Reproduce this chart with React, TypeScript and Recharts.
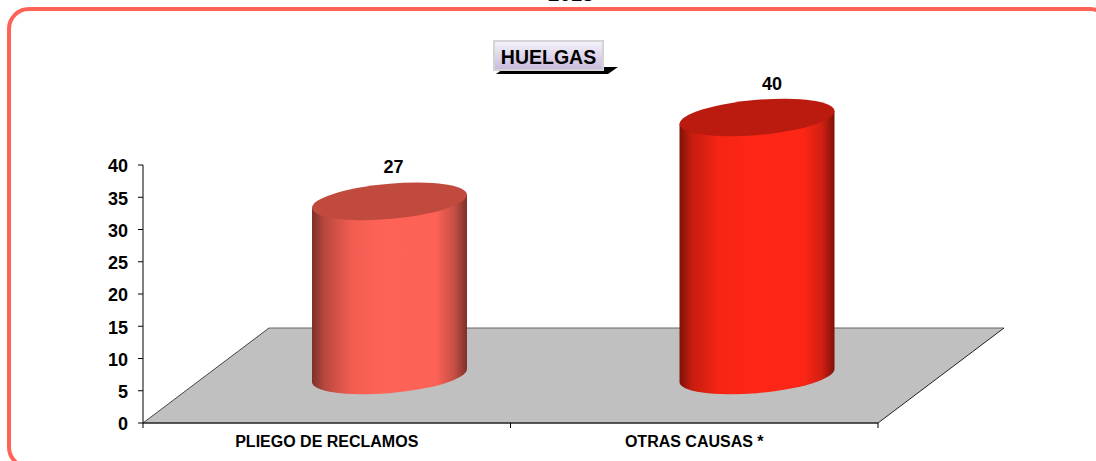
import React from 'react';
import { BarChart, Bar, XAxis, YAxis, Cell, LabelList, ReferenceArea } from 'recharts';

const categories = ['PLIEGO DE RECLAMOS', 'OTRAS CAUSAS *'];
const values = [27, 40];
const yTicks = [0, 5, 10, 15, 20, 25, 30, 35, 40];

const chartData = categories.map((name, i) => ({ name, value: values[i] }));

const WIDTH = 1096;
const HEIGHT = 461;
const MARGIN = { top: 165, right: 218, bottom: 0, left: 100 };
const X_AXIS_HEIGHT = 38;
const Y_AXIS_WIDTH = 43;
const BAR_WIDTH = 155;
const BAND = (WIDTH - MARGIN.right - MARGIN.left - Y_AXIS_WIDTH) / categories.length;

// floor depth of the fake 3D box, bars stand in the middle of it
const DEPTH_X = 126;
const DEPTH_Y = 95;

const FONT = '"Liberation Sans", Arial, sans-serif';

const topColors = ['#C04A3E', '#BB1B0F'];
const labelNudge = [4, 15];

const Floor = ({ x, y, width, height }: any) => {
  const bottom = y + height;
  const points = [
    [x, bottom],
    [x + width, bottom],
    [x + width + DEPTH_X, bottom - DEPTH_Y],
    [x + DEPTH_X, bottom - DEPTH_Y],
  ];
  return (
    <g>
      <polygon points={points.map((p) => p.join(',')).join(' ')} fill="#C0C0C0" />
      <line x1={points[3][0]} y1={points[3][1]} x2={points[2][0]} y2={points[2][1]} stroke="#666" strokeWidth={1} />
      <line x1={points[0][0]} y1={points[0][1]} x2={points[3][0]} y2={points[3][1]} stroke="#444" strokeWidth={1} />
      <line x1={points[1][0]} y1={points[1][1]} x2={points[2][0]} y2={points[2][1]} stroke="#222" strokeWidth={1} />
    </g>
  );
};

const Cylinder = ({ x, y, width, height, fill, index }: any) => {
  const rx = width / 2;
  const ry = 17.7;
  const cx = x + rx + DEPTH_X / 2;
  const cy = y - DEPTH_Y / 2;
  const body = `M ${-rx} 0 L ${-rx} ${height} A ${rx} ${ry} 0 0 0 ${rx} ${height} L ${rx} 0 Z`;
  return (
    <g transform={`translate(${cx} ${cy}) matrix(1 ${-6.5 / rx} 0 1 0 0)`}>
      <path d={body} fill={fill} />
      <ellipse cx={0} cy={0} rx={rx} ry={ry} fill={topColors[index]} />
    </g>
  );
};

const BarValue = ({ x, y, width, value, index }: any) => (
  <text
    x={x + width / 2 + DEPTH_X / 2 + labelNudge[index]}
    y={y - DEPTH_Y / 2 - 28}
    textAnchor="middle"
    fontFamily={FONT}
    fontWeight="bold"
    fontSize={18}
    fill="#000"
  >
    {value}
  </text>
);

const CategoryTick = ({ x, y, payload, index }: any) => (
  <g>
    <line x1={x - BAND / 2} y1={y - 8} x2={x - BAND / 2} y2={y - 3} stroke="#000" />
    {index === categories.length - 1 && (
      <line x1={x + BAND / 2} y1={y - 8} x2={x + BAND / 2} y2={y - 3} stroke="#000" />
    )}
    <text x={x} y={y + 16} textAnchor="middle" fontFamily={FONT} fontWeight="bold" fontSize={16} fill="#000">
      {payload.value}
    </text>
  </g>
);

const App = () => (
  <div style={{ position: 'absolute', left: 0, top: 0, width: WIDTH, height: HEIGHT, overflow: 'hidden', background: '#fff' }}>
    <div
      style={{
        position: 'absolute',
        left: 7,
        top: 7,
        width: 1105,
        height: 462,
        boxSizing: 'border-box',
        border: '4px solid #FF6358',
        borderRadius: 22,
      }}
    />
    <div
      style={{
        position: 'absolute',
        left: 548,
        top: -18,
        fontFamily: FONT,
        fontWeight: 'bold',
        fontSize: 20.5,
        color: '#000',
      }}
    >
      2013
    </div>
    <div
      style={{
        position: 'absolute',
        left: 496,
        top: 67,
        width: 122,
        height: 7,
        background: '#000',
        clipPath: 'polygon(10px 0, 100% 0, calc(100% - 10px) 100%, 0 100%)',
      }}
    />
    <div
      style={{
        position: 'absolute',
        left: 493,
        top: 40,
        width: 111,
        height: 31,
        boxSizing: 'border-box',
        border: '2px solid #D4D4D4',
        background: 'linear-gradient(#F4F1F9, #C9BCDB)',
        fontFamily: FONT,
        fontWeight: 'bold',
        fontSize: 19.5,
        lineHeight: '30px',
        textAlign: 'center',
        color: '#000',
      }}
    >
      HUELGAS
    </div>
    <BarChart width={WIDTH} height={HEIGHT} data={chartData} margin={MARGIN} style={{ position: 'absolute', left: 0, top: 0 }}>
      <defs>
        <linearGradient id="cyl0" x1="0" x2="1" y1="0" y2="0">
          <stop offset="0" stopColor="#7D3029" />
          <stop offset="0.08" stopColor="#B8483E" />
          <stop offset="0.25" stopColor="#F05C51" />
          <stop offset="0.45" stopColor="#FF6358" />
          <stop offset="0.8" stopColor="#FD6257" />
          <stop offset="0.92" stopColor="#C44E44" />
          <stop offset="1" stopColor="#7D3029" />
        </linearGradient>
        <linearGradient id="cyl1" x1="0" x2="1" y1="0" y2="0">
          <stop offset="0" stopColor="#7E1208" />
          <stop offset="0.08" stopColor="#C51D10" />
          <stop offset="0.25" stopColor="#F52414" />
          <stop offset="0.45" stopColor="#FF2616" />
          <stop offset="0.8" stopColor="#FD2616" />
          <stop offset="0.92" stopColor="#D01F12" />
          <stop offset="1" stopColor="#7E1208" />
        </linearGradient>
      </defs>
      <ReferenceArea y1={0} y2={40} ifOverflow="visible" shape={<Floor />} />
      <XAxis
        dataKey="name"
        interval={0}
        height={X_AXIS_HEIGHT}
        axisLine={{ stroke: '#222', strokeWidth: 1.5 }}
        tickLine={false}
        tick={<CategoryTick />}
      />
      <YAxis
        type="number"
        domain={[0, 40]}
        ticks={yTicks}
        width={Y_AXIS_WIDTH}
        axisLine={{ stroke: '#000' }}
        tickLine={{ stroke: '#000' }}
        tickSize={5}
        tickMargin={10}
        tick={{ fontFamily: FONT, fontWeight: 'bold', fontSize: 18, fill: '#000', dy: 1 }}
      />
      <Bar dataKey="value" barSize={BAR_WIDTH} isAnimationActive={false} shape={<Cylinder />}>
        {chartData.map((d, i) => (
          <Cell key={d.name} fill={`url(#cyl${i})`} />
        ))}
        <LabelList dataKey="value" content={<BarValue />} />
      </Bar>
    </BarChart>
  </div>
);

export default App;
